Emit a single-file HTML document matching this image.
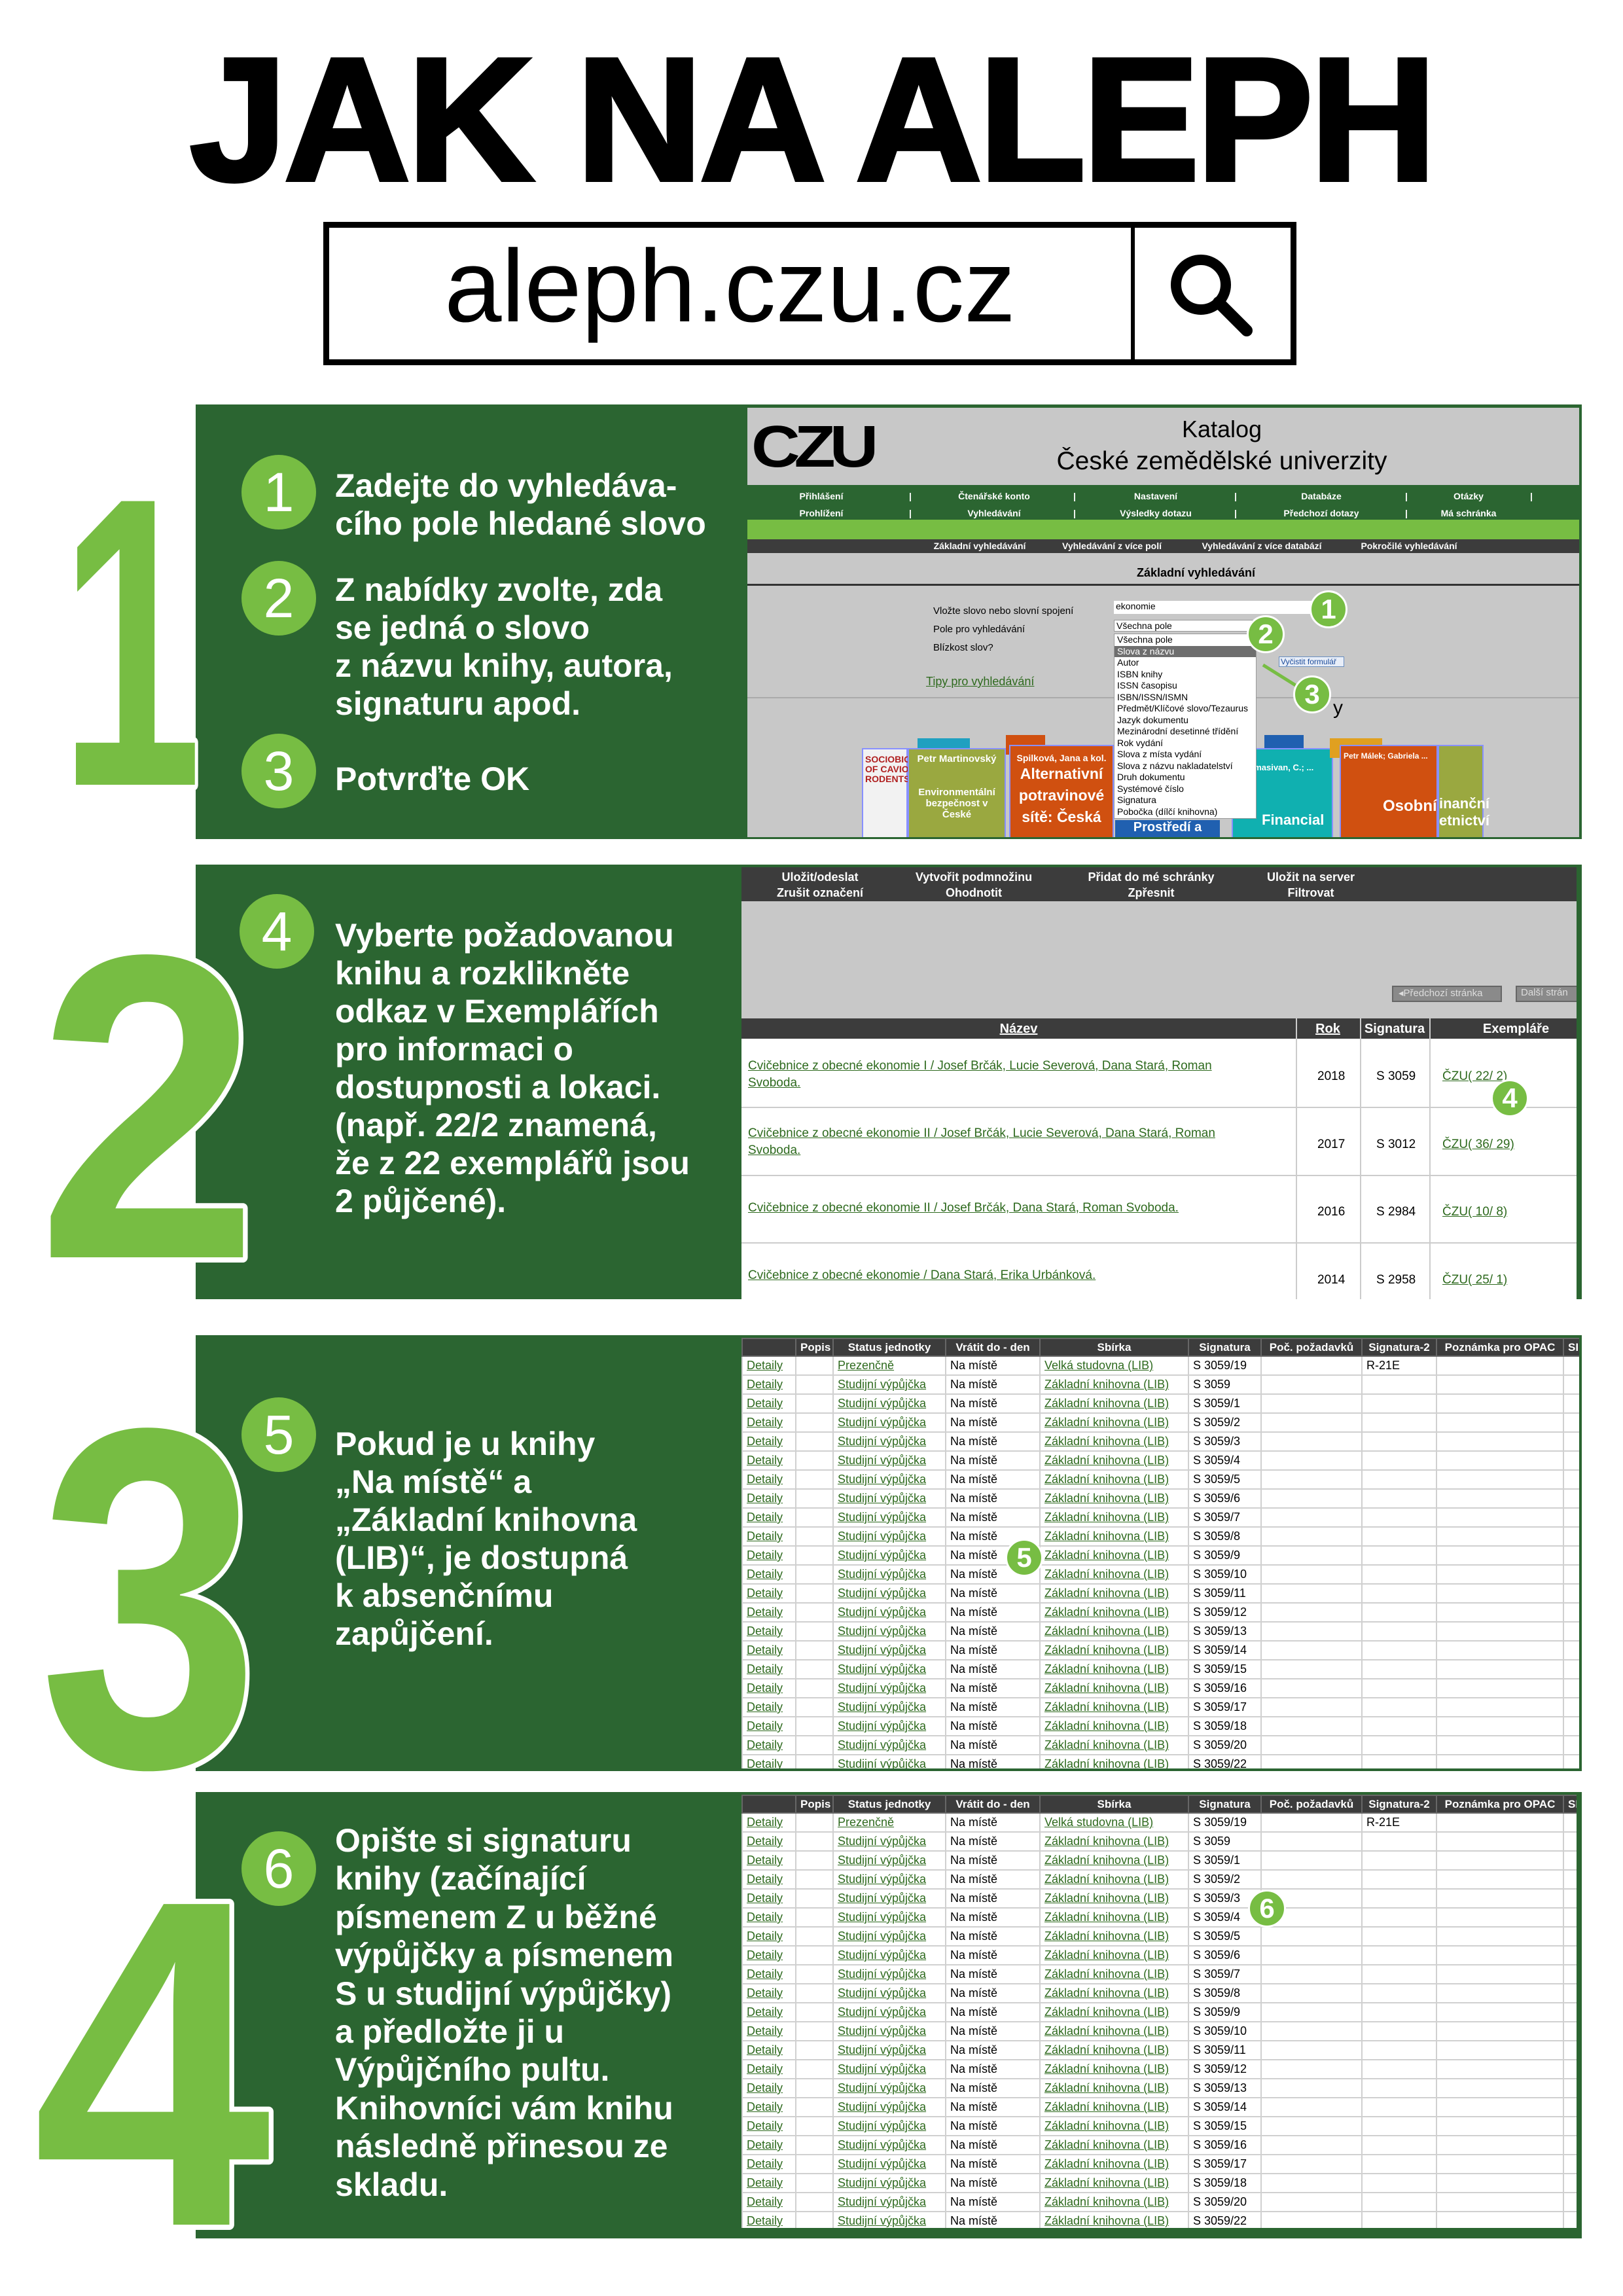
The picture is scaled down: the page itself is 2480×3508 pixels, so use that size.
<!DOCTYPE html>
<html><head><meta charset="utf-8">
<style>
*{margin:0;padding:0;box-sizing:border-box}
body{width:2480px;height:3508px;background:#fff;position:relative;overflow:hidden;font-family:"Liberation Sans",sans-serif}
.a{position:absolute}
.panel{position:absolute;left:299px;width:2118px;background:#2b6531}
.pt{position:absolute;left:512px;color:#fff;font-weight:bold;font-size:50px;line-height:58px;white-space:nowrap}
.c{position:absolute;width:114px;height:114px;border-radius:50%;background:#77bd43;color:#fff;font-size:84px;text-align:center;line-height:114px}
.b{position:absolute;width:58px;height:58px;border-radius:50%;background:#77bd43;border:3px solid #fff;color:#fff;font-weight:bold;font-size:42px;text-align:center;line-height:52px}
.ss{position:absolute;background:#c8c8c8;overflow:hidden}
.nav{position:absolute;color:#fff;font-weight:bold;font-size:14px;transform:translateX(-50%);white-space:nowrap}
.t{border-collapse:collapse;table-layout:fixed;font-size:18px;background:#fff}
.t td,.t th{border:2px solid #d0d0d0;height:29px;padding:0 6px;white-space:nowrap;overflow:hidden;text-align:left}
.t th{background:#3c3c3c;color:#fff;font-weight:bold;border-color:#666;text-align:center;height:27px;font-size:17px}
.l{color:#2e6a1e;text-decoration:underline}
.dd div{height:17.5px;font-size:14px;line-height:17.5px;padding-left:4px}
</style></head><body>

<!-- title -->
<div class="a" style="left:0;top:42px;width:2480px;text-align:center;font-size:268px;font-weight:bold;line-height:280px;letter-spacing:-5px;-webkit-text-stroke:6px #000">JAK NA ALEPH</div>
<div class="a" style="left:494px;top:339px;width:1487px;height:219px;border:9px solid #000"></div>
<div class="a" style="left:1728px;top:345px;width:6px;height:207px;background:#000"></div>
<div class="a" style="left:503px;top:340px;width:1225px;text-align:center;font-size:157px;line-height:195px">aleph.czu.cz</div>
<svg class="a" style="left:1780px;top:380px" width="140" height="140" viewBox="0 0 140 140"><circle cx="55" cy="55" r="38" fill="none" stroke="#000" stroke-width="16"/><line x1="82" y1="82" x2="125" y2="125" stroke="#000" stroke-width="18" stroke-linecap="round"/></svg>

<!-- PANEL 1 -->
<div class="panel" style="top:618px;height:664px"></div>
<div class="c" style="left:369px;top:695px">1</div>
<div class="c" style="left:369px;top:857px">2</div>
<div class="c" style="left:369px;top:1121px">3</div>
<div class="pt" style="top:713px">Zadejte do vyhledáva-<br>cího pole hledané slovo</div>
<div class="pt" style="top:872px">Z nabídky zvolte, zda<br>se jedná o slovo<br>z názvu knihy, autora,<br>signaturu apod.</div>
<div class="pt" style="top:1161px">Potvrďte OK</div>

<div class="ss" style="left:1142px;top:623px;width:1271px;height:656px">
  <div class="a" style="left:6px;top:20px;font-size:90px;font-weight:bold;letter-spacing:-8px;line-height:80px;transform:scaleX(1.15);transform-origin:left">CZU</div>
  <div class="a" style="left:560px;top:12px;width:330px;text-align:center;font-size:36px">Katalog</div>
  <div class="a" style="left:440px;top:60px;width:570px;text-align:center;font-size:39px">České zemědělské univerzity</div>
  <div class="a" style="left:0;top:118px;width:1271px;height:53px;background:#2b6531"></div>
  <div class="a" style="left:0;top:171px;width:1271px;height:30px;background:#77bd43"></div>
  <div class="a" style="left:0;top:201px;width:1271px;height:21px;background:#3c3c3c"></div>
  <div class="nav" style="left:113px;top:127px">Přihlášení</div><div class="nav" style="left:377px;top:127px">Čtenářské konto</div><div class="nav" style="left:624px;top:127px">Nastavení</div><div class="nav" style="left:877px;top:127px">Databáze</div><div class="nav" style="left:1102px;top:127px">Otázky</div>
  <div class="nav" style="left:113px;top:153px">Prohlížení</div><div class="nav" style="left:377px;top:153px">Vyhledávání</div><div class="nav" style="left:624px;top:153px">Výsledky dotazu</div><div class="nav" style="left:877px;top:153px">Předchozí dotazy</div><div class="nav" style="left:1102px;top:153px">Má schránka</div>
  <div class="nav" style="left:249px;top:127px">|</div><div class="nav" style="left:500px;top:127px">|</div><div class="nav" style="left:746px;top:127px">|</div><div class="nav" style="left:1007px;top:127px">|</div><div class="nav" style="left:1198px;top:127px">|</div>
  <div class="nav" style="left:249px;top:153px">|</div><div class="nav" style="left:500px;top:153px">|</div><div class="nav" style="left:746px;top:153px">|</div><div class="nav" style="left:1007px;top:153px">|</div>
  <div class="nav" style="left:355px;top:203px">Základní vyhledávání</div><div class="nav" style="left:557px;top:203px">Vyhledávání z více polí</div><div class="nav" style="left:786px;top:203px">Vyhledávání z více databází</div><div class="nav" style="left:1011px;top:203px">Pokročilé vyhledávání</div>
  <div class="a" style="left:0;top:242px;width:1271px;text-align:center;font-size:18px;font-weight:bold;padding-left:100px">Základní vyhledávání</div>
  <div class="a" style="left:0;top:269px;width:1271px;height:3px;background:#333"></div>
  <div class="a" style="left:0;top:442px;width:1271px;height:2px;background:#aaa"></div>
  <div class="a" style="left:284px;top:297px;font-size:15px;line-height:28px">Vložte slovo nebo slovní spojení<br>Pole pro vyhledávání<br>Blízkost slov?</div>
  <div class="a" style="left:560px;top:295px;width:303px;height:20px;background:#fff;font-size:14px;padding-left:3px">ekonomie</div>
  <div class="a" style="left:560px;top:324px;width:220px;height:18px;background:#fff;border:1px solid #999;font-size:14px;padding-left:3px">Všechna pole</div>
  <div class="a" style="left:812px;top:380px;width:100px;height:16px;border:1px solid #6a8fc0;background:#e8eef8;font-size:12px;color:#1a4a9a;padding-left:2px">Vyčistit formulář</div>
  <div class="a l" style="left:273px;top:408px;font-size:18px">Tipy pro vyhledávání</div>
  <div class="a" style="left:895px;top:442px;font-size:30px">y</div>
  <!-- books -->
  <div class="a" style="left:175px;top:520px;width:70px;height:140px;background:#f2f2f2;border:2px solid #8890ff"></div>
  <div class="a" style="left:180px;top:530px;font-size:14px;color:#b02020;font-weight:bold;line-height:15px">SOCIOBIOLO<br>OF CAVIOMO<br>RODENTS</div>
  <div class="a" style="left:260px;top:505px;width:80px;height:40px;background:#20a0c0"></div>
  <div class="a" style="left:245px;top:520px;width:150px;height:140px;background:#9aa840;border:2px solid #8890ff;color:#fff;font-weight:bold;font-size:15px;text-align:center;padding-top:6px">Petr Martinovský<br><br><br>Environmentální<br>bezpečnost v<br>České</div>
  <div class="a" style="left:395px;top:500px;width:60px;height:30px;background:#d05010"></div>
  <div class="a" style="left:400px;top:515px;width:160px;height:145px;background:#d05010;border:2px solid #8890ff;color:#fff;font-weight:bold;font-size:14px;text-align:center;padding-top:10px">Spilková, Jana a kol.<br><span style="font-size:23px;line-height:33px">Alternativní<br>potravinové<br>sítě: Česká</span></div>
  <div class="a" style="left:562px;top:630px;width:160px;height:30px;background:#2060b0;color:#fff;font-weight:bold;font-size:20px;text-align:center">Prostředí a</div>
  <div class="a" style="left:730px;top:500px;width:40px;height:90px;background:#2060b0"></div>
  <div class="a" style="left:790px;top:500px;width:60px;height:40px;background:#2060b0"></div>
  <div class="a" style="left:740px;top:520px;width:155px;height:140px;background:#10b0b0;border:2px solid #8890ff;color:#fff;font-weight:bold;font-size:13px;padding:20px 4px">Paramasivan, C.; ...<br><br><br><br><br><span style="font-size:22px;padding-left:40px">Financial</span></div>
  <div class="a" style="left:890px;top:505px;width:80px;height:30px;background:#e0a020"></div>
  <div class="a" style="left:905px;top:515px;width:150px;height:145px;background:#d05010;border:2px solid #8890ff;color:#fff;font-weight:bold;font-size:12px;padding:8px 4px">Petr Málek; Gabriela ...<br><br><br><br><br><span style="font-size:24px;padding-left:60px">Osobní</span></div>
  <div class="a" style="left:1055px;top:515px;width:70px;height:145px;background:#9aa840;border:2px solid #8890ff;color:#fff;font-weight:bold;font-size:22px;padding-top:75px">inanční<br>etnictví</div>
  <!-- dropdown -->
  <div class="a dd" style="left:560px;top:345px;width:218px;height:283px;background:#fff;border:1px solid #999">
    <div>Všechna pole</div><div style="background:#6e6e6e;color:#fff">Slova z názvu</div><div>Autor</div><div>ISBN knihy</div><div>ISSN časopisu</div><div>ISBN/ISSN/ISMN</div><div>Předmět/Klíčové slovo/Tezaurus</div><div>Jazyk dokumentu</div><div>Mezinárodní desetinné třídění</div><div>Rok vydání</div><div>Slova z místa vydání</div><div>Slova z názvu nakladatelství</div><div>Druh dokumentu</div><div>Systémové číslo</div><div>Signatura</div><div>Pobočka (dílčí knihovna)</div>
  </div>
  <svg class="a" style="left:0;top:0" width="1271" height="656"><line x1="788" y1="393" x2="860" y2="438" stroke="#77bd43" stroke-width="5"/></svg>
  <div class="b" style="left:859px;top:279px">1</div>
  <div class="b" style="left:763px;top:317px">2</div>
  <div class="b" style="left:834px;top:409px">3</div>
</div>

<!-- PANEL 2 -->
<div class="panel" style="top:1321px;height:664px"></div>
<div class="c" style="left:366px;top:1366px">4</div>
<div class="pt" style="top:1400px">Vyberte požadovanou<br>knihu a rozklikněte<br>odkaz v Exemplářích<br>pro informaci o<br>dostupnosti a lokaci.<br>(např. 22/2 znamená,<br>že z 22 exemplářů jsou<br>2 půjčené).</div>
<div class="ss" style="left:1133px;top:1325px;width:1276px;height:660px;background:#c8c8c8">
  <div class="a" style="left:0;top:0;width:1276px;height:52px;background:#3c3c3c"></div>
  <div class="nav" style="left:120px;top:5px;font-size:18px">Uložit/odeslat</div><div class="nav" style="left:120px;top:29px;font-size:18px">Zrušit označení</div>
  <div class="nav" style="left:355px;top:5px;font-size:18px">Vytvořit podmnožinu</div><div class="nav" style="left:355px;top:29px;font-size:18px">Ohodnotit</div>
  <div class="nav" style="left:626px;top:5px;font-size:18px">Přidat do mé schránky</div><div class="nav" style="left:626px;top:29px;font-size:18px">Zpřesnit</div>
  <div class="nav" style="left:870px;top:5px;font-size:18px">Uložit na server</div><div class="nav" style="left:870px;top:29px;font-size:18px">Filtrovat</div>
  <div class="a" style="left:994px;top:181px;width:168px;height:25px;background:#8a8a8a;border:2px solid #666;color:#ddd;font-size:15px;padding-left:8px">◂Předchozí stránka</div>
  <div class="a" style="left:1183px;top:181px;width:100px;height:25px;background:#8a8a8a;border:2px solid #666;color:#ddd;font-size:15px;padding-left:6px">Další strán</div>
  <div class="a" style="left:0;top:231px;width:1276px;height:431px;background:#fff"></div>
  <div class="a" style="left:0;top:231px;width:1276px;height:31px;background:#3c3c3c"></div>
  <div class="a" style="left:0;top:236px;width:847px;text-align:center;color:#fff;font-weight:bold;font-size:20px;text-decoration:underline">Název</div>
  <div class="a" style="left:847px;top:236px;width:98px;text-align:center;color:#fff;font-weight:bold;font-size:20px;text-decoration:underline">Rok</div>
  <div class="a" style="left:945px;top:236px;width:106px;text-align:center;color:#fff;font-weight:bold;font-size:20px">Signatura</div>
  <div class="a" style="left:1051px;top:236px;width:225px;text-align:center;color:#fff;font-weight:bold;font-size:20px;padding-left:40px">Exempláře</div>
  <div class="a" style="left:847px;top:231px;width:2px;height:431px;background:#ccc"></div>
  <div class="a" style="left:945px;top:231px;width:2px;height:431px;background:#ccc"></div>
  <div class="a" style="left:1051px;top:231px;width:2px;height:431px;background:#ccc"></div>
  <div class="a" style="left:0;top:366px;width:1276px;height:2px;background:#ccc"></div>
  <div class="a" style="left:0;top:470px;width:1276px;height:2px;background:#ccc"></div>
  <div class="a" style="left:0;top:573px;width:1276px;height:2px;background:#ccc"></div>
  <div class="a l" style="left:10px;top:291px;font-size:19px;line-height:26px">Cvičebnice z obecné ekonomie I / Josef Brčák, Lucie Severová, Dana Stará, Roman<br>Svoboda.</div>
  <div class="a l" style="left:10px;top:394px;font-size:19px;line-height:26px">Cvičebnice z obecné ekonomie II / Josef Brčák, Lucie Severová, Dana Stará, Roman<br>Svoboda.</div>
  <div class="a l" style="left:10px;top:510px;font-size:19px">Cvičebnice z obecné ekonomie II / Josef Brčák, Dana Stará, Roman Svoboda.</div>
  <div class="a l" style="left:10px;top:613px;font-size:19px">Cvičebnice z obecné ekonomie / Dana Stará, Erika Urbánková.</div>
  <div class="a" style="left:880px;top:268px;font-size:19px;line-height:103.5px">2018<br>2017<br>2016<br>2014</div>
  <div class="a" style="left:970px;top:268px;font-size:19px;line-height:103.5px">S 3059<br>S 3012<br>S 2984<br>S 2958</div>
  <div class="a l" style="left:1071px;top:268px;font-size:19px;line-height:103.5px">ČZU( 22/ 2)<br>ČZU( 36/ 29)<br>ČZU( 10/ 8)<br>ČZU( 25/ 1)</div>
  <div class="b" style="left:1145px;top:324px">4</div>
</div>

<!-- PANEL 3 -->
<div class="panel" style="top:2040px;height:666px"></div>
<div class="c" style="left:369px;top:2135px">5</div>
<div class="pt" style="top:2177px">Pokud je u knihy<br>„Na místě“ a<br>„Základní knihovna<br>(LIB)“, je dostupná<br>k absenčnímu<br>zapůjčení.</div>
<div class="ss" style="left:1133px;top:2044px;width:1280px;height:658px;background:#fff">
<table class="t" style="width:1282px">
<colgroup><col style="width:82px"><col style="width:57px"><col style="width:172px"><col style="width:144px"><col style="width:227px"><col style="width:111px"><col style="width:154px"><col style="width:114px"><col style="width:194px"><col style="width:27px"></colgroup>
<tr><th></th><th>Popis</th><th>Status jednotky</th><th>Vrátit do - den</th><th>Sbírka</th><th>Signatura</th><th>Poč. požadavků</th><th>Signatura-2</th><th>Poznámka pro OPAC</th><th>SI</th></tr>
<tr><td class="l">Detaily</td><td></td><td class="l">Prezenčně</td><td>Na místě</td><td class="l">Velká studovna (LIB)</td><td>S 3059/19</td><td></td><td>R-21E</td><td></td><td></td></tr>
<tr><td class="l">Detaily</td><td></td><td class="l">Studijní výpůjčka</td><td>Na místě</td><td class="l">Základní knihovna (LIB)</td><td>S 3059</td><td></td><td></td><td></td><td></td></tr>
<tr><td class="l">Detaily</td><td></td><td class="l">Studijní výpůjčka</td><td>Na místě</td><td class="l">Základní knihovna (LIB)</td><td>S 3059/1</td><td></td><td></td><td></td><td></td></tr>
<tr><td class="l">Detaily</td><td></td><td class="l">Studijní výpůjčka</td><td>Na místě</td><td class="l">Základní knihovna (LIB)</td><td>S 3059/2</td><td></td><td></td><td></td><td></td></tr>
<tr><td class="l">Detaily</td><td></td><td class="l">Studijní výpůjčka</td><td>Na místě</td><td class="l">Základní knihovna (LIB)</td><td>S 3059/3</td><td></td><td></td><td></td><td></td></tr>
<tr><td class="l">Detaily</td><td></td><td class="l">Studijní výpůjčka</td><td>Na místě</td><td class="l">Základní knihovna (LIB)</td><td>S 3059/4</td><td></td><td></td><td></td><td></td></tr>
<tr><td class="l">Detaily</td><td></td><td class="l">Studijní výpůjčka</td><td>Na místě</td><td class="l">Základní knihovna (LIB)</td><td>S 3059/5</td><td></td><td></td><td></td><td></td></tr>
<tr><td class="l">Detaily</td><td></td><td class="l">Studijní výpůjčka</td><td>Na místě</td><td class="l">Základní knihovna (LIB)</td><td>S 3059/6</td><td></td><td></td><td></td><td></td></tr>
<tr><td class="l">Detaily</td><td></td><td class="l">Studijní výpůjčka</td><td>Na místě</td><td class="l">Základní knihovna (LIB)</td><td>S 3059/7</td><td></td><td></td><td></td><td></td></tr>
<tr><td class="l">Detaily</td><td></td><td class="l">Studijní výpůjčka</td><td>Na místě</td><td class="l">Základní knihovna (LIB)</td><td>S 3059/8</td><td></td><td></td><td></td><td></td></tr>
<tr><td class="l">Detaily</td><td></td><td class="l">Studijní výpůjčka</td><td>Na místě</td><td class="l">Základní knihovna (LIB)</td><td>S 3059/9</td><td></td><td></td><td></td><td></td></tr>
<tr><td class="l">Detaily</td><td></td><td class="l">Studijní výpůjčka</td><td>Na místě</td><td class="l">Základní knihovna (LIB)</td><td>S 3059/10</td><td></td><td></td><td></td><td></td></tr>
<tr><td class="l">Detaily</td><td></td><td class="l">Studijní výpůjčka</td><td>Na místě</td><td class="l">Základní knihovna (LIB)</td><td>S 3059/11</td><td></td><td></td><td></td><td></td></tr>
<tr><td class="l">Detaily</td><td></td><td class="l">Studijní výpůjčka</td><td>Na místě</td><td class="l">Základní knihovna (LIB)</td><td>S 3059/12</td><td></td><td></td><td></td><td></td></tr>
<tr><td class="l">Detaily</td><td></td><td class="l">Studijní výpůjčka</td><td>Na místě</td><td class="l">Základní knihovna (LIB)</td><td>S 3059/13</td><td></td><td></td><td></td><td></td></tr>
<tr><td class="l">Detaily</td><td></td><td class="l">Studijní výpůjčka</td><td>Na místě</td><td class="l">Základní knihovna (LIB)</td><td>S 3059/14</td><td></td><td></td><td></td><td></td></tr>
<tr><td class="l">Detaily</td><td></td><td class="l">Studijní výpůjčka</td><td>Na místě</td><td class="l">Základní knihovna (LIB)</td><td>S 3059/15</td><td></td><td></td><td></td><td></td></tr>
<tr><td class="l">Detaily</td><td></td><td class="l">Studijní výpůjčka</td><td>Na místě</td><td class="l">Základní knihovna (LIB)</td><td>S 3059/16</td><td></td><td></td><td></td><td></td></tr>
<tr><td class="l">Detaily</td><td></td><td class="l">Studijní výpůjčka</td><td>Na místě</td><td class="l">Základní knihovna (LIB)</td><td>S 3059/17</td><td></td><td></td><td></td><td></td></tr>
<tr><td class="l">Detaily</td><td></td><td class="l">Studijní výpůjčka</td><td>Na místě</td><td class="l">Základní knihovna (LIB)</td><td>S 3059/18</td><td></td><td></td><td></td><td></td></tr>
<tr><td class="l">Detaily</td><td></td><td class="l">Studijní výpůjčka</td><td>Na místě</td><td class="l">Základní knihovna (LIB)</td><td>S 3059/20</td><td></td><td></td><td></td><td></td></tr>
<tr><td class="l">Detaily</td><td></td><td class="l">Studijní výpůjčka</td><td>Na místě</td><td class="l">Základní knihovna (LIB)</td><td>S 3059/22</td><td></td><td></td><td></td><td></td></tr>
</table>
<div class="b" style="left:403px;top:307px">5</div>
</div>

<!-- PANEL 4 -->
<div class="panel" style="top:2738px;height:682px"></div>
<div class="c" style="left:369px;top:2798px">6</div>
<div class="pt" style="top:2783px;line-height:58.4px">Opište si signaturu<br>knihy (začínající<br>písmenem Z u běžné<br>výpůjčky a písmenem<br>S u studijní výpůjčky)<br>a předložte ji u<br>Výpůjčního pultu.<br>Knihovníci vám knihu<br>následně přinesou ze<br>skladu.</div>
<div class="ss" style="left:1133px;top:2742px;width:1276px;height:662px;background:#fff">
<table class="t" style="width:1282px">
<colgroup><col style="width:82px"><col style="width:57px"><col style="width:172px"><col style="width:144px"><col style="width:227px"><col style="width:111px"><col style="width:154px"><col style="width:114px"><col style="width:194px"><col style="width:27px"></colgroup>
<tr><th></th><th>Popis</th><th>Status jednotky</th><th>Vrátit do - den</th><th>Sbírka</th><th>Signatura</th><th>Poč. požadavků</th><th>Signatura-2</th><th>Poznámka pro OPAC</th><th>SI</th></tr>
<tr><td class="l">Detaily</td><td></td><td class="l">Prezenčně</td><td>Na místě</td><td class="l">Velká studovna (LIB)</td><td>S 3059/19</td><td></td><td>R-21E</td><td></td><td></td></tr>
<tr><td class="l">Detaily</td><td></td><td class="l">Studijní výpůjčka</td><td>Na místě</td><td class="l">Základní knihovna (LIB)</td><td>S 3059</td><td></td><td></td><td></td><td></td></tr>
<tr><td class="l">Detaily</td><td></td><td class="l">Studijní výpůjčka</td><td>Na místě</td><td class="l">Základní knihovna (LIB)</td><td>S 3059/1</td><td></td><td></td><td></td><td></td></tr>
<tr><td class="l">Detaily</td><td></td><td class="l">Studijní výpůjčka</td><td>Na místě</td><td class="l">Základní knihovna (LIB)</td><td>S 3059/2</td><td></td><td></td><td></td><td></td></tr>
<tr><td class="l">Detaily</td><td></td><td class="l">Studijní výpůjčka</td><td>Na místě</td><td class="l">Základní knihovna (LIB)</td><td>S 3059/3</td><td></td><td></td><td></td><td></td></tr>
<tr><td class="l">Detaily</td><td></td><td class="l">Studijní výpůjčka</td><td>Na místě</td><td class="l">Základní knihovna (LIB)</td><td>S 3059/4</td><td></td><td></td><td></td><td></td></tr>
<tr><td class="l">Detaily</td><td></td><td class="l">Studijní výpůjčka</td><td>Na místě</td><td class="l">Základní knihovna (LIB)</td><td>S 3059/5</td><td></td><td></td><td></td><td></td></tr>
<tr><td class="l">Detaily</td><td></td><td class="l">Studijní výpůjčka</td><td>Na místě</td><td class="l">Základní knihovna (LIB)</td><td>S 3059/6</td><td></td><td></td><td></td><td></td></tr>
<tr><td class="l">Detaily</td><td></td><td class="l">Studijní výpůjčka</td><td>Na místě</td><td class="l">Základní knihovna (LIB)</td><td>S 3059/7</td><td></td><td></td><td></td><td></td></tr>
<tr><td class="l">Detaily</td><td></td><td class="l">Studijní výpůjčka</td><td>Na místě</td><td class="l">Základní knihovna (LIB)</td><td>S 3059/8</td><td></td><td></td><td></td><td></td></tr>
<tr><td class="l">Detaily</td><td></td><td class="l">Studijní výpůjčka</td><td>Na místě</td><td class="l">Základní knihovna (LIB)</td><td>S 3059/9</td><td></td><td></td><td></td><td></td></tr>
<tr><td class="l">Detaily</td><td></td><td class="l">Studijní výpůjčka</td><td>Na místě</td><td class="l">Základní knihovna (LIB)</td><td>S 3059/10</td><td></td><td></td><td></td><td></td></tr>
<tr><td class="l">Detaily</td><td></td><td class="l">Studijní výpůjčka</td><td>Na místě</td><td class="l">Základní knihovna (LIB)</td><td>S 3059/11</td><td></td><td></td><td></td><td></td></tr>
<tr><td class="l">Detaily</td><td></td><td class="l">Studijní výpůjčka</td><td>Na místě</td><td class="l">Základní knihovna (LIB)</td><td>S 3059/12</td><td></td><td></td><td></td><td></td></tr>
<tr><td class="l">Detaily</td><td></td><td class="l">Studijní výpůjčka</td><td>Na místě</td><td class="l">Základní knihovna (LIB)</td><td>S 3059/13</td><td></td><td></td><td></td><td></td></tr>
<tr><td class="l">Detaily</td><td></td><td class="l">Studijní výpůjčka</td><td>Na místě</td><td class="l">Základní knihovna (LIB)</td><td>S 3059/14</td><td></td><td></td><td></td><td></td></tr>
<tr><td class="l">Detaily</td><td></td><td class="l">Studijní výpůjčka</td><td>Na místě</td><td class="l">Základní knihovna (LIB)</td><td>S 3059/15</td><td></td><td></td><td></td><td></td></tr>
<tr><td class="l">Detaily</td><td></td><td class="l">Studijní výpůjčka</td><td>Na místě</td><td class="l">Základní knihovna (LIB)</td><td>S 3059/16</td><td></td><td></td><td></td><td></td></tr>
<tr><td class="l">Detaily</td><td></td><td class="l">Studijní výpůjčka</td><td>Na místě</td><td class="l">Základní knihovna (LIB)</td><td>S 3059/17</td><td></td><td></td><td></td><td></td></tr>
<tr><td class="l">Detaily</td><td></td><td class="l">Studijní výpůjčka</td><td>Na místě</td><td class="l">Základní knihovna (LIB)</td><td>S 3059/18</td><td></td><td></td><td></td><td></td></tr>
<tr><td class="l">Detaily</td><td></td><td class="l">Studijní výpůjčka</td><td>Na místě</td><td class="l">Základní knihovna (LIB)</td><td>S 3059/20</td><td></td><td></td><td></td><td></td></tr>
<tr><td class="l">Detaily</td><td></td><td class="l">Studijní výpůjčka</td><td>Na místě</td><td class="l">Základní knihovna (LIB)</td><td>S 3059/22</td><td></td><td></td><td></td><td></td></tr>
</table>
<div class="b" style="left:774px;top:145px">6</div>
</div>

<!-- big numerals -->
<svg class="a" style="left:0;top:0" width="2480" height="3508">
<g font-family="Liberation Sans, sans-serif" font-weight="bold" fill="#77bd43" stroke="#fff" stroke-width="16" paint-order="stroke" stroke-linejoin="round">
<text x="0" y="0" font-size="630" text-anchor="middle" transform="translate(200,1199) scale(0.62,1)">1</text>
<text x="0" y="0" font-size="663" text-anchor="middle" transform="translate(226,1921) scale(0.92,1)">2</text>
<text x="0" y="0" font-size="740" text-anchor="middle" transform="translate(228,2698) scale(0.82,1)">3</text>
<text x="0" y="0" font-size="712" text-anchor="middle" transform="translate(232,3399) scale(0.92,1)">4</text>
</g>
</svg>
</body></html>
